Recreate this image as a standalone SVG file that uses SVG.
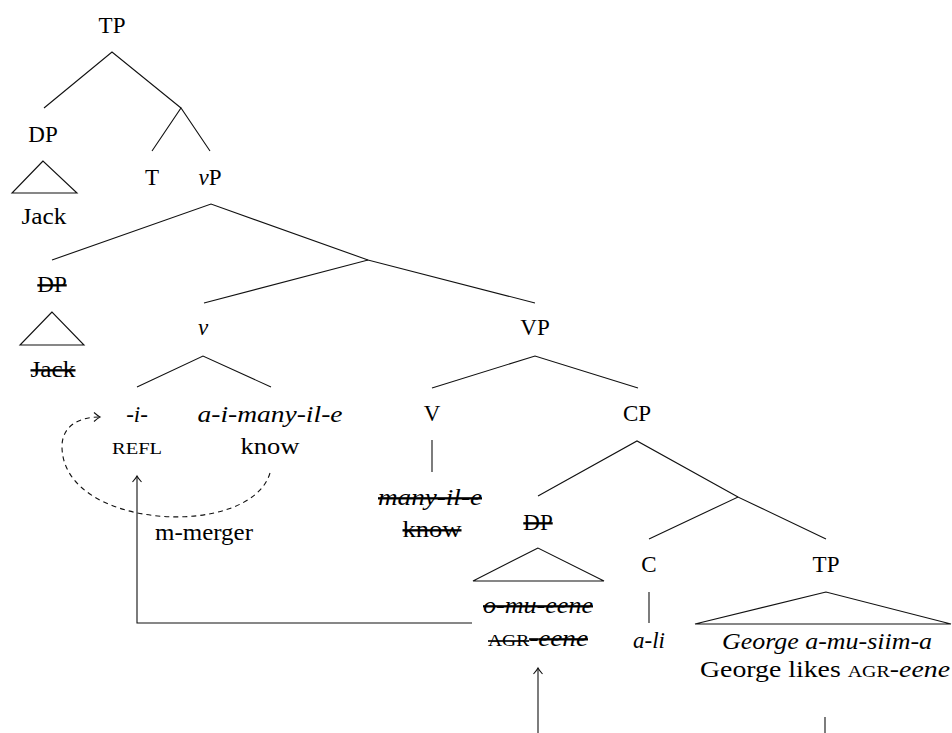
<svg xmlns="http://www.w3.org/2000/svg" width="952" height="733" viewBox="0 0 952 733">
<style>
text{font-family:"Liberation Serif","DejaVu Serif",serif;font-size:23px;fill:#000;text-anchor:middle}
.i{font-style:italic}
.sc{font-size:16.5px}
.s{text-decoration:line-through}
.e line,.e polyline,.e polygon,.e path{stroke:#111;stroke-width:1.1;fill:none}
</style>
<defs>
<marker id="ah" viewBox="-8 -6 10 12" markerWidth="10" markerHeight="12" refX="0" refY="0" orient="auto" markerUnits="userSpaceOnUse">
<path d="M-6,-4.5 Q-2,-1 0,0 Q-2,1 -6,4.5" fill="none" stroke="#111" stroke-width="1.1"/>
</marker>
</defs>
<g id="n-tp"><text x="112" y="33">TP</text></g>
<g id="n-dp1"><text x="43" y="142">DP</text></g>
<g id="n-jack1"><text x="44" y="224" textLength="45" lengthAdjust="spacingAndGlyphs">Jack</text></g>
<g id="n-t"><text x="152" y="185">T</text></g>
<g id="n-vp"><text x="210" y="185"><tspan class="i">v</tspan>P</text></g>
<g id="n-dp2"><text x="52" y="292" class="s">DP</text></g>
<g id="n-jack2"><text x="53" y="377" class="s" textLength="45" lengthAdjust="spacingAndGlyphs">Jack</text></g>
<g id="n-v"><text x="203" y="335" class="i">v</text></g>
<g id="n-vp2"><text x="535" y="335">VP</text></g>
<g id="n-refl"><text x="137" y="422" class="i">-i-</text><text x="137" y="454" class="sc" textLength="50" lengthAdjust="spacingAndGlyphs">REFL</text></g>
<g id="n-know"><text x="270" y="422" class="i" textLength="145" lengthAdjust="spacingAndGlyphs">a-i-many-il-e</text><text x="270" y="454" textLength="59" lengthAdjust="spacingAndGlyphs">know</text></g>
<g id="n-V"><text x="432" y="421">V</text></g>
<g id="n-cp"><text x="637" y="421">CP</text></g>
<g id="n-many"><text x="430" y="505" class="i s" textLength="104" lengthAdjust="spacingAndGlyphs">many-il-e</text><text x="432" y="537" class="s" textLength="59" lengthAdjust="spacingAndGlyphs">know</text></g>
<g id="n-mmerger"><text x="204" y="540" textLength="98" lengthAdjust="spacingAndGlyphs">m-merger</text></g>
<g id="n-dp3"><text x="538" y="530" class="s">DP</text></g>
<g id="n-omu"><text x="538" y="613" class="i s" textLength="110" lengthAdjust="spacingAndGlyphs">o-mu-eene</text><text x="538" y="646" class="s" textLength="100" lengthAdjust="spacingAndGlyphs"><tspan class="sc">AGR</tspan>-<tspan class="i">eene</tspan></text></g>
<g id="n-c"><text x="649" y="572">C</text></g>
<g id="n-ali"><text x="649" y="648" class="i">a-li</text></g>
<g id="n-tp2"><text x="826" y="572">TP</text></g>
<g id="n-george"><text x="827" y="649" class="i" textLength="210" lengthAdjust="spacingAndGlyphs">George a-mu-siim-a</text><text x="825" y="677" textLength="250" lengthAdjust="spacingAndGlyphs">George likes <tspan class="sc">AGR</tspan>-<tspan class="i">eene</tspan></text></g>
<g id="connectors" class="e">
<polyline points="44,108 112,52 181,108"/>
<polyline points="152,151 181,108 210,151"/>
<polygon points="43,161 12,193 77,193"/>
<polyline points="52,260 211,204 368,260"/>
<polyline points="204,303 368,260 535,303"/>
<polygon points="52,312 20,345 84,345"/>
<polyline points="137,387 203,356 271,387"/>
<polyline points="432,388 535,356 638,388"/>
<line x1="432" y1="440" x2="432" y2="472"/>
<polyline points="538,496 637,441 738,497"/>
<polyline points="649,539 738,497 826,539"/>
<polygon points="538,548 473,581 604,581"/>
<line x1="649" y1="592" x2="649" y2="623"/>
<polygon points="826,592 695,624 951,624"/>
<line x1="825" y1="717" x2="825" y2="733"/>
<line x1="538" y1="733" x2="538" y2="668" marker-end="url(#ah)"/>
<polyline points="472,623 137,623 137,476" marker-end="url(#ah)"/>
<path d="M270,473 C250,540 60,530 62,445 C63,425 80,417 100,417" stroke-dasharray="5,4" marker-end="url(#ah)"/>
</g>
</svg>
